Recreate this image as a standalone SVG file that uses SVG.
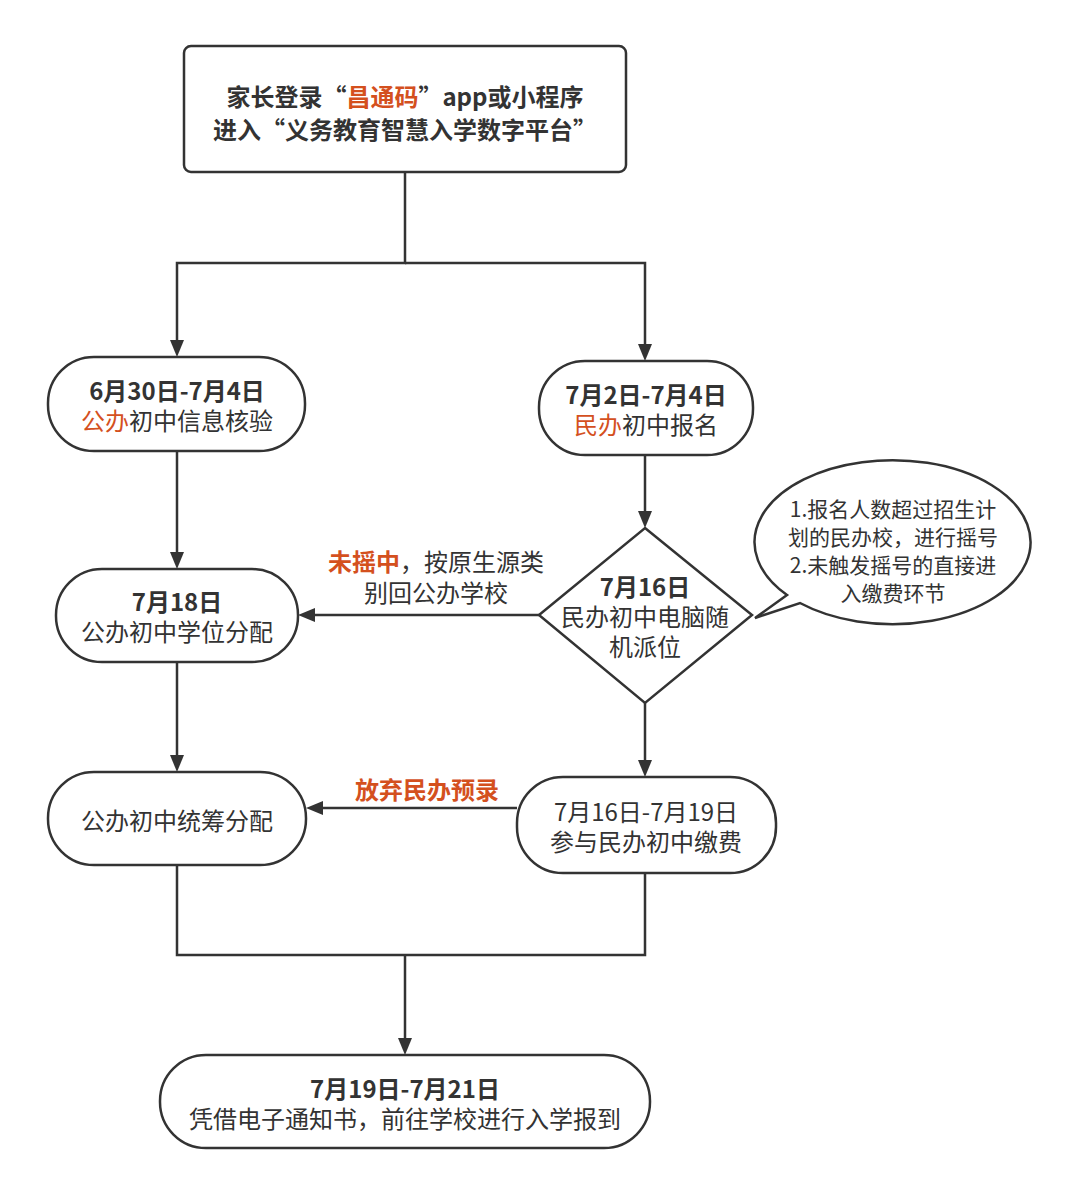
<svg xmlns="http://www.w3.org/2000/svg" width="1080" height="1196" viewBox="0 0 1080 1196">
<style>
text{font-family:"Noto Sans CJK SC","Noto Sans",sans-serif;fill:#333;text-anchor:middle;font-size:24px}
.b{font-weight:bold}
.r{fill:#d4501e}
.node{fill:#fff;stroke:#333;stroke-width:2.5}
.ln{fill:none;stroke:#333;stroke-width:2.5}
.note{font-size:21px}
</style>
<rect width="1080" height="1196" fill="#fff"/>
<g id="connectors">
<path class="ln" d="M405,172 V263 H177 V340"/>
<path class="ln" d="M405,263 H645 V344"/>
<path class="ln" d="M645,455 V511"/>
<path class="ln" d="M177,451 V552"/>
<path class="ln" d="M539,615 H315"/>
<path class="ln" d="M177,662 V755"/>
<path class="ln" d="M645,703 V760"/>
<path class="ln" d="M517,808 H323"/>
<path class="ln" d="M177,865 V955 H645 V873"/>
<path class="ln" d="M405,955 V1038"/>
<g fill="#333">
<path d="M170,340 L184,340 L177,357 z"/>
<path d="M638,344 L652,344 L645,361 z"/>
<path d="M638,511 L652,511 L645,528 z"/>
<path d="M170,552 L184,552 L177,569 z"/>
<path d="M315,608 L315,622 L298,615 z"/>
<path d="M170,755 L184,755 L177,772 z"/>
<path d="M638,760 L652,760 L645,777 z"/>
<path d="M323,801 L323,815 L306,808 z"/>
<path d="M398,1038 L412,1038 L405,1055 z"/>
</g>
<text x="436" y="571"><tspan class="r b">未摇中</tspan>，按原生源类</text>
<text x="436" y="602">别回公办学校</text>
<text x="427" y="799" class="r b">放弃民办预录</text>
</g>
<g id="start">
<rect class="node" x="184" y="46" width="442" height="126" rx="7" stroke-width="3.5"/>
<text x="405" y="106" class="b" font-size="25">家长登录“<tspan class="r">昌通码</tspan>”app或小程序</text>
<text x="405" y="139" class="b" font-size="25">进入“义务教育智慧入学数字平台”</text>
</g>
<g id="public-verify">
<rect class="node" x="48" y="357" width="257" height="94" rx="46"/>
<text x="177" y="400" class="b">6月30日-7月4日</text>
<text x="177" y="430"><tspan class="r">公办</tspan>初中信息核验</text>
</g>
<g id="private-signup">
<rect class="node" x="539" y="361" width="214" height="94" rx="46"/>
<text x="646" y="404" class="b">7月2日-7月4日</text>
<text x="646" y="434"><tspan class="r">民办</tspan>初中报名</text>
</g>
<g id="lottery">
<path class="node" d="M645,528 L752,615 L645,703 L539,615 z"/>
<text x="645" y="596" class="b">7月16日</text>
<text x="645" y="626">民办初中电脑随</text>
<text x="645" y="656">机派位</text>
</g>
<g id="note">
<path class="node" d="M787,595 A138,82 0 1 1 800,603 L755,618 z"/>
<text class="note" x="893" y="517">1.报名人数超过招生计</text>
<text class="note" x="893" y="545">划的民办校，进行摇号</text>
<text class="note" x="893" y="573">2.未触发摇号的直接进</text>
<text class="note" x="893" y="601">入缴费环节</text>
</g>
<g id="public-assign">
<rect class="node" x="56" y="569" width="242" height="93" rx="46"/>
<text x="177" y="611" class="b">7月18日</text>
<text x="177" y="641">公办初中学位分配</text>
</g>
<g id="public-overall">
<rect class="node" x="48" y="772" width="258" height="93" rx="46"/>
<text x="177" y="830">公办初中统筹分配</text>
</g>
<g id="private-pay">
<rect class="node" x="517" y="777" width="259" height="96" rx="46"/>
<text x="646" y="821">7月16日-7月19日</text>
<text x="646" y="851">参与民办初中缴费</text>
</g>
<g id="enroll">
<rect class="node" x="160" y="1055" width="490" height="93" rx="46"/>
<text x="405" y="1098" class="b">7月19日-7月21日</text>
<text x="405" y="1128">凭借电子通知书，前往学校进行入学报到</text>
</g>
</svg>
